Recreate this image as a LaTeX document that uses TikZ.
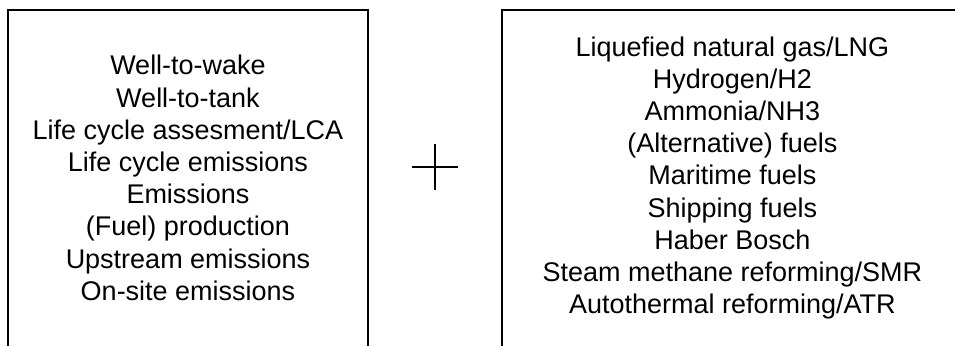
\documentclass[tikz,border=0pt]{standalone}
\usepackage{fontspec}
\setmainfont{Liberation Sans}
\usepackage{tikz}
\usetikzlibrary{positioning}

\begin{document}
\begin{tikzpicture}[line width=1.4pt,
    termlist/.style={align=center, font=\fontsize{19.2pt}{22.9pt}\selectfont, inner sep=0pt}]
        % Canvas
        \useasboundingbox (0, 0) rectangle (23.875, 8.625);
        \clip (0, 0) rectangle (23.875, 8.625);

        % Open boxes (cut by the page)
        \draw (0.2, -0.5) -- (0.2, 8.375) -- (9.2, 8.375) -- (9.2, -0.5);
        \draw (12.55, -0.5) -- (12.55, 8.375) -- (24.5, 8.375);

        % Term lists
        \node[termlist] (impact) at (4.7, 4.175) {Well-to-wake\\Well-to-tank\\Life cycle assesment/LCA\\Life cycle emissions\\Emissions\\(Fuel) production\\Upstream emissions\\On-site emissions};
        \node[termlist] (fuels) at (18.31, 4.175) {Liquefied natural gas/LNG\\Hydrogen/H2\\Ammonia/NH3\\(Alternative) fuels\\Maritime fuels\\Shipping fuels\\Haber Bosch\\Steam methane reforming/SMR\\Autothermal reforming/ATR};

        % Plus sign
        \coordinate (plus) at (10.875, 4.45);
        \draw ([xshift=-0.575cm]plus) -- ([xshift=0.575cm]plus);
        \draw ([yshift=-0.575cm]plus) -- ([yshift=0.575cm]plus);
    \end{tikzpicture}
\end{document}
